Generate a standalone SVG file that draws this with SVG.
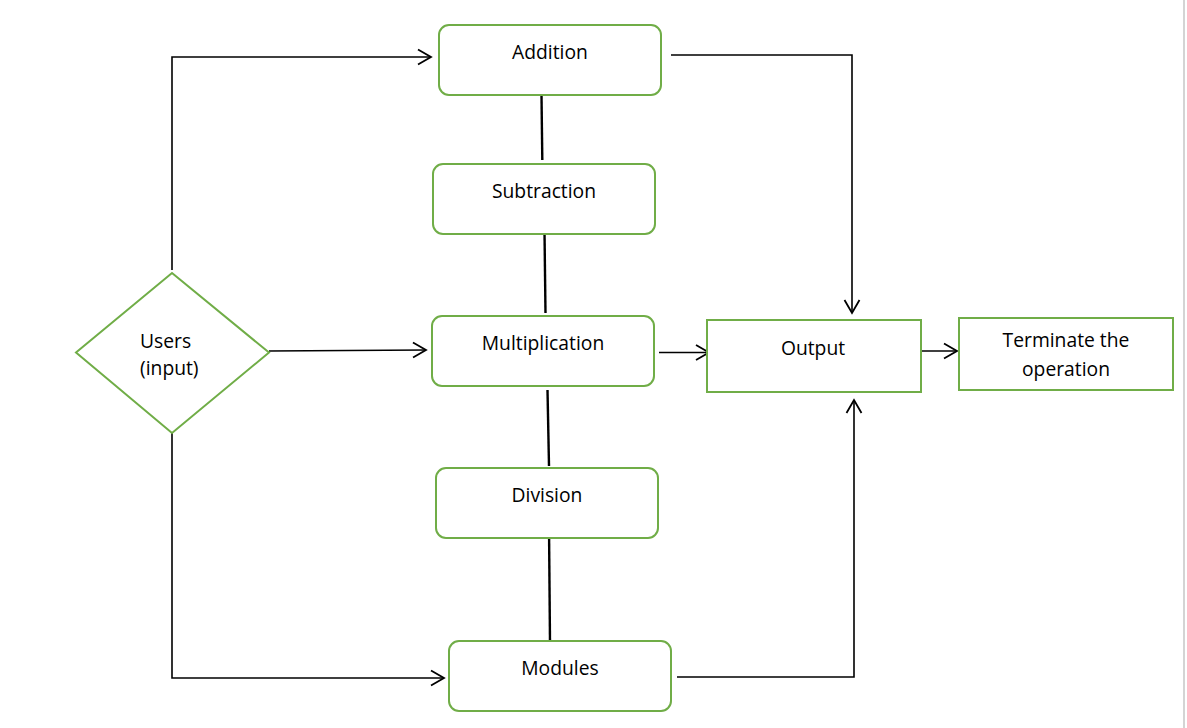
<svg xmlns="http://www.w3.org/2000/svg" width="1187" height="728" viewBox="0 0 1187 728">
<style>
.box{fill:#fff;stroke:#70AD47;stroke-width:2}
.lbl{font-family:"Open Sans","Noto Sans",sans-serif;font-size:19.3px;fill:#000;text-anchor:middle}
.lft{text-anchor:start}
.arr{fill:none;stroke:#000;stroke-width:1.6;marker-end:url(#open)}
.lnk{fill:none;stroke:#000;stroke-width:2.4}
</style>
<defs>
<marker id="open" markerUnits="userSpaceOnUse" markerWidth="16" markerHeight="18" viewBox="-14 -8 16 16" refX="0" refY="0" orient="auto">
<path d="M-13,-7.5 L0,0 L-13,7.5" fill="none" stroke="#000" stroke-width="1.8"/>
</marker>
</defs>
<rect width="1187" height="728" fill="#fff"/>
<rect x="1183" y="0" width="2" height="728" fill="#d4d4d4"/>
<g id="connectors">
<path class="arr" d="M172,270 V57 H431"/>
<path class="arr" d="M269,351 L426,350"/>
<path class="arr" d="M172,428 V678 H444"/>
<path class="arr" d="M671,55 H852 V313"/>
<path class="arr" d="M659,352.5 H709"/>
<path class="arr" d="M921,351 H957"/>
<path class="arr" d="M677,677 H854 V400"/>
<path class="lnk" d="M541.5,95 L542.3,160"/>
<path class="lnk" d="M544.5,232 L545.5,313"/>
<path class="lnk" d="M547.5,390 L549,466"/>
<path class="lnk" d="M549,527 L550,643"/>
</g>
<g id="users">
<polygon class="box" points="172,273 269,352.5 172,433 76,352.5"/>
<text class="lbl lft" x="140" y="348">Users</text>
<text class="lbl lft" x="140" y="375">(input)</text>
</g>
<g id="addition">
<rect class="box" x="439" y="25" width="222" height="70" rx="10"/>
<text class="lbl" x="550" y="59">Addition</text>
</g>
<g id="subtraction">
<rect class="box" x="433" y="164" width="222" height="70" rx="10"/>
<text class="lbl" x="544" y="198">Subtraction</text>
</g>
<g id="multiplication">
<rect class="box" x="432" y="316" width="222" height="70" rx="10"/>
<text class="lbl" x="543" y="350">Multiplication</text>
</g>
<g id="division">
<rect class="box" x="436" y="468" width="222" height="70" rx="10"/>
<text class="lbl" x="547" y="502">Division</text>
</g>
<g id="modules">
<rect class="box" x="449" y="641" width="222" height="70" rx="10"/>
<text class="lbl" x="560" y="675">Modules</text>
</g>
<g id="output">
<rect class="box" x="707" y="320" width="214" height="72"/>
<text class="lbl" x="813" y="355">Output</text>
</g>
<g id="terminate">
<rect class="box" x="959" y="318" width="214" height="72"/>
<text class="lbl" x="1066" y="347">Terminate the</text>
<text class="lbl" x="1066" y="376">operation</text>
</g>
</svg>
